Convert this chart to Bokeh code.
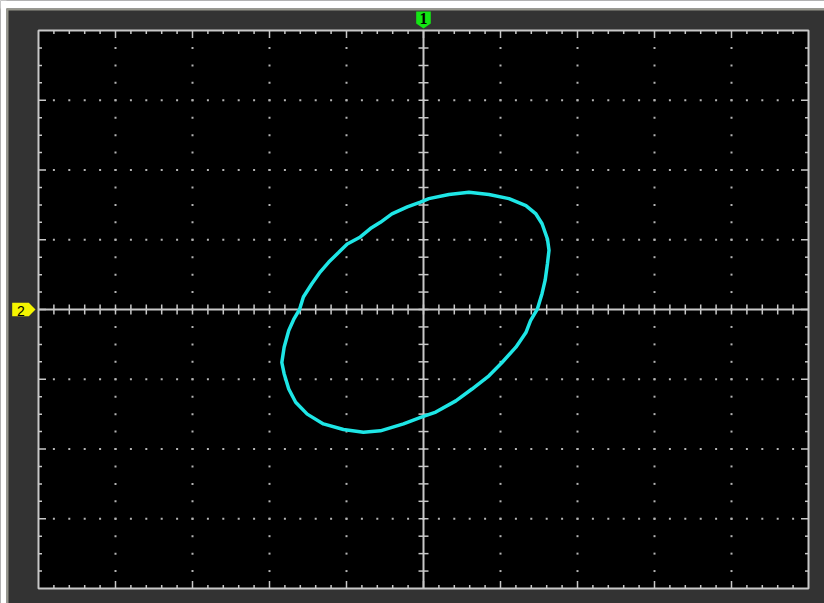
import numpy as np
from bokeh.plotting import figure
from bokeh.models import Range1d
from bokeh.core.properties import value
from bokeh.embed import file_html
from bokeh.resources import INLINE

# XY-mode trace, in screen divisions (CH1 -> X, CH2 -> Y)
trace_x = [-1.61, -1.56, -1.45, -1.34, -1.23, -1.10, -0.99, -0.82, -0.69, -0.56,
           -0.41, -0.21, -0.04, 0.07, 0.33, 0.59, 0.85, 1.11, 1.33, 1.46,
           1.54, 1.61, 1.63, 1.61, 1.58, 1.54, 1.48, 1.39, 1.33, 1.20,
           1.02, 0.85, 0.63, 0.42, 0.16, -0.02, -0.26, -0.56, -0.78, -1.04,
           -1.30, -1.51, -1.66, -1.75, -1.81, -1.84, -1.81, -1.75, -1.68]
trace_y = [0.00, 0.18, 0.37, 0.54, 0.68, 0.82, 0.94, 1.04, 1.16, 1.25,
           1.37, 1.47, 1.54, 1.59, 1.65, 1.68, 1.65, 1.59, 1.49, 1.37,
           1.23, 1.01, 0.85, 0.66, 0.42, 0.23, 0.01, -0.16, -0.33, -0.54,
           -0.76, -0.95, -1.14, -1.31, -1.47, -1.54, -1.64, -1.74, -1.76, -1.72,
           -1.64, -1.50, -1.33, -1.14, -0.92, -0.76, -0.54, -0.30, -0.13]

# screen graticule
x_divs = 10
y_divs = 8
x_sub = 5
y_sub = 4

# channel markers
ch1_label = "1"
ch1_pos = 0.0
ch2_label = "2"
ch2_pos = 0.0

# canvas layout (px)
W, H = 824, 603
GL, GT, GR, GB = 38, 30, 808, 588      # graticule box on canvas
xh, yh = x_divs / 2, y_divs / 2
fx = x_divs / (GR - GL)                # data units per px
fy = y_divs / (GB - GT)


def X(px):
    return -xh + (px - GL) * fx


def Y(py):
    return yh - (py - GT) * fy


p = figure(width=W, height=H, x_range=Range1d(X(0), X(W)), y_range=Range1d(Y(H), Y(0)),
           output_backend="svg", toolbar_location=None,
           x_axis_type=None, y_axis_type=None,
           min_border_left=0, min_border_right=0, min_border_top=0, min_border_bottom=0,
           background_fill_color="#333333", border_fill_color="#333333",
           outline_line_color=None)

# page margin strips and bezel highlight
p.quad(left=[X(0), X(0)], right=[X(W), X(6)], top=[Y(0), Y(0)], bottom=[Y(8), Y(H)],
       fill_color="white", line_color=None)
hl = "#96968c"
p.quad(left=[X(6), X(6)], right=[X(W), X(8)], top=[Y(8), Y(8)], bottom=[Y(10), Y(H)],
       fill_color=hl, line_color=None)

grid_c = "#b4b4b4"
line_c = "#c8c8c8"

# black screen
p.quad(left=[-xh], right=[xh], bottom=[-yh], top=[yh], fill_color="black",
       line_color=line_c, line_width=2)

# dotted graticule
kx = np.arange(-xh * x_sub + 1, xh * x_sub) / x_sub
ky = np.arange(-yh * y_sub + 1, yh * y_sub) / y_sub
vlines = [i for i in range(int(-xh) + 1, int(xh)) if i != 0]
hlines = [j for j in range(int(-yh) + 1, int(yh)) if j != 0]
dx = np.concatenate([np.full(len(ky), v) for v in vlines] + [kx for _ in hlines])
dy = np.concatenate([ky for _ in vlines] + [np.full(len(kx), h) for h in hlines])
p.scatter(dx, dy, marker="square", size=2, fill_color=grid_c, line_color=None)

# centre cross
p.segment(x0=[-xh, 0], y0=[0, -yh], x1=[xh, 0], y1=[0, yh], line_color=line_c, line_width=2)
p.scatter(kx, np.zeros(len(kx)), marker="dash", angle=np.pi / 2, size=10,
          line_color=line_c, line_width=1.5)
p.scatter(np.zeros(len(ky)), ky, marker="dash", size=10, line_color=line_c, line_width=1.5)

# edge ticks (inward)
lx = np.where(np.isclose(kx, np.round(kx)), 7.5, 3.5) * fy
ly = np.where(np.isclose(ky, np.round(ky)), 7.5, 3.5) * fx
p.segment(x0=kx, y0=np.full(len(kx), yh), x1=kx, y1=yh - lx, line_color=line_c, line_width=1.5)
p.segment(x0=kx, y0=np.full(len(kx), -yh), x1=kx, y1=-yh + lx, line_color=line_c, line_width=1.5)
p.segment(x0=np.full(len(ky), -xh), y0=ky, x1=-xh + ly, y1=ky, line_color=line_c, line_width=1.5)
p.segment(x0=np.full(len(ky), xh), y0=ky, x1=xh - ly, y1=ky, line_color=line_c, line_width=1.5)

# trace
p.line(trace_x + trace_x[:1], trace_y + trace_y[:1], line_color="#1ee6e6", line_width=3.5)

# channel markers
m1x = list(ch1_pos + np.array([-7.3, 7.3, 7.3, 0, -7.3]) * fx)
m1y = list(yh + np.array([19, 19, 7, 2, 7]) * fy)
m2x = list(-xh - np.array([26.3, 9.7, 3, 9.7, 26.3]) * fx)
m2y = list(ch2_pos + np.array([6.7, 6.7, 0, -6.7, -6.7]) * fy)
p.patches(xs=[m1x, m2x], ys=[m1y, m2y], fill_color=["#14e614", "#f5f500"], line_color=None)
p.text(x=[ch1_pos], y=[yh + 12.5 * fy], text=[ch1_label], text_align="center",
       text_baseline="middle", text_color="black", text_font=value("Liberation Serif"),
       text_font_style="bold", text_font_size="16px")
p.text(x=[-xh - 17.5 * fx], y=[ch2_pos - 1 * fy], text=[ch2_label], text_align="center",
       text_baseline="middle", text_color="black", text_font=value("Liberation Sans"),
       text_font_size="14px")

open("out.html", "w").write(file_html(p, INLINE))
